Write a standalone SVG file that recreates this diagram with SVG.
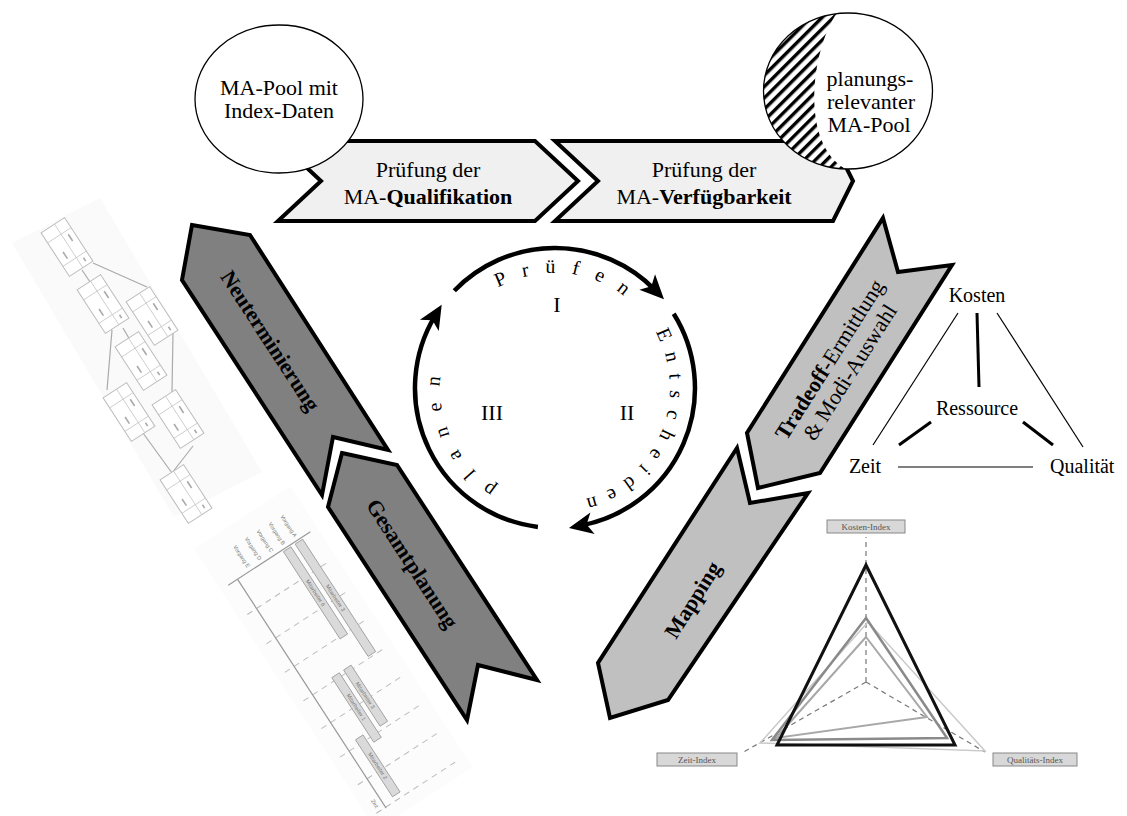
<svg xmlns="http://www.w3.org/2000/svg" width="1127" height="816" viewBox="0 0 1127 816">
<defs>
<style>
.t{font-family:"Liberation Serif","Times New Roman",serif;fill:#000}
.lbl{font-size:22px}
.b{font-weight:bold}
.chev1{fill:#f0f0f0;stroke:#000;stroke-width:4}
.chev2{fill:#808080;stroke:#000;stroke-width:4}
.chev3{fill:#c0c0c0;stroke:#000;stroke-width:4}
.ring{fill:none;stroke:#000;stroke-width:4.5;marker-end:url(#ah)}
.ct{font-size:20px}
.thin{stroke:#000;stroke-width:1.2}
.thick{stroke:#000;stroke-width:3}
.ax{stroke:#777;stroke-width:1.2;stroke-dasharray:5 4;fill:none}
.ibox{fill:#d8d8d8;stroke:#888;stroke-width:1}
.itxt{font-family:"Liberation Serif",serif;font-size:9px;fill:#555;text-anchor:middle}
.nb{fill:#fff;stroke:#bbb;stroke-width:1}
.nl{stroke:#c8c8c8;stroke-width:0.8}
.nd{stroke:#aaa;stroke-width:1.6}
.ne{stroke:#aaa;stroke-width:1.2;fill:none}
.gb{fill:#dadada;stroke:#999;stroke-width:0.8}
.gt{font-family:"Liberation Sans",sans-serif;font-size:5.5px;fill:#777}
.gd{stroke:#bbb;stroke-width:1;stroke-dasharray:6 5}
</style>
<marker id="ah" markerUnits="userSpaceOnUse" markerWidth="30" markerHeight="30" viewBox="-15 -15 30 30" refX="0" refY="0" orient="auto" overflow="visible">
<path d="M13,0 L-11,-11 L-5,0 L-11,11 Z" fill="#000"/>
</marker>
<pattern id="hatch" width="8" height="8" patternUnits="userSpaceOnUse" patternTransform="rotate(45)">
<rect width="3.4" height="8" fill="#000"/>
</pattern>
<clipPath id="hclip"><ellipse cx="848" cy="91" rx="84.5" ry="78"/></clipPath>
<g id="nbox">
<rect class="nb" x="-26" y="-14" width="52" height="28"/>
<line class="nl" x1="-26" y1="-2" x2="26" y2="-2"/>
<line class="nl" x1="-14" y1="-14" x2="-14" y2="14"/>
<line class="nl" x1="14" y1="-14" x2="14" y2="14"/>
<line class="nd" x1="-10" y1="-8" x2="-2" y2="-8"/>
<line class="nd" x1="2" y1="6" x2="10" y2="6"/>
<line class="nd" x1="18" y1="-8" x2="22" y2="-8"/>
</g>
<path id="tp" d="M555,503 A115,115 0 0,1 555,273 A115,115 0 0,1 555,503" fill="none"/>
</defs>
<rect width="1127" height="816" fill="#fff"/>

<g id="network-image">
<polygon points="12,243 100,198 262,472 174,517" fill="#fafafa"/>
<g class="ne">
<line x1="82" y1="270" x2="90" y2="282"/>
<line x1="93" y1="263" x2="147" y2="287"/>
<line x1="112" y1="330" x2="107" y2="390"/>
<line x1="123" y1="328" x2="130" y2="340"/>
<line x1="173" y1="332" x2="172" y2="392"/>
<line x1="143" y1="433" x2="172" y2="473"/>
<line x1="193" y1="446" x2="172" y2="473"/>
</g>
<use href="#nbox" transform="translate(67,247) rotate(57)"/>
<use href="#nbox" transform="translate(103,304) rotate(57)"/>
<use href="#nbox" transform="translate(152,316) rotate(57)"/>
<use href="#nbox" transform="translate(141,361) rotate(57)"/>
<use href="#nbox" transform="translate(129,412) rotate(57)"/>
<use href="#nbox" transform="translate(178,419) rotate(57)"/>
<use href="#nbox" transform="translate(186,494) rotate(57)"/>
</g>

<g id="gantt-image" transform="translate(238,580) rotate(57)">
<rect x="-50" y="-95" width="335" height="115" fill="#fcfcfc"/>
<g class="gd">
<line x1="34" y1="11" x2="34" y2="-88"/>
<line x1="69" y1="11" x2="69" y2="-88"/>
<line x1="103" y1="11" x2="103" y2="-88"/>
<line x1="137" y1="11" x2="137" y2="-88"/>
<line x1="170" y1="11" x2="170" y2="-88"/>
<line x1="204" y1="11" x2="204" y2="-88"/>
<line x1="237" y1="11" x2="237" y2="-88"/>
<line x1="271" y1="11" x2="271" y2="-88"/>
</g>
<line x1="-1" y1="11" x2="-1" y2="-87" stroke="#999" stroke-width="1.2"/>
<line x1="-1" y1="0" x2="272" y2="0" stroke="#999" stroke-width="1.2"/>
<text class="gt" x="-5" y="-70" text-anchor="end">Vorgang A</text>
<text class="gt" x="-5" y="-56" text-anchor="end">Vorgang B</text>
<text class="gt" x="-5" y="-42" text-anchor="end">Vorgang C</text>
<text class="gt" x="-5" y="-28" text-anchor="end">Vorgang D</text>
<text class="gt" x="-5" y="-14" text-anchor="end">Vorgang E</text>
<rect class="gb" x="1" y="-76.5" width="134" height="9"/>
<text class="gt" x="68" y="-70" text-anchor="middle">Mitarbeiter 3</text>
<rect class="gb" x="1" y="-62.5" width="104" height="9"/>
<text class="gt" x="53" y="-56" text-anchor="middle">Mitarbeiter 6</text>
<rect class="gb" x="133" y="-48.5" width="67" height="9"/>
<text class="gt" x="166" y="-42" text-anchor="middle">Mitarbeiter 3</text>
<rect class="gb" x="133" y="-34.5" width="77" height="9"/>
<text class="gt" x="171" y="-28" text-anchor="middle">Mitarbeiter 1</text>
<rect class="gb" x="198" y="-20.5" width="68" height="9"/>
<text class="gt" x="232" y="-14" text-anchor="middle">Mitarbeiter 2</text>
<text class="gt" x="262" y="9" text-anchor="middle">Zeit</text>
</g>

<g id="arrow-qualifikation">
<polygon class="chev1" points="278,141 535,141 578,181 535,221 278,221 321,181"/>
<text class="t lbl" x="428" y="177" text-anchor="middle">Prüfung der</text>
<text class="t lbl" x="428" y="204" text-anchor="middle">MA-<tspan class="b">Qualifikation</tspan></text>
</g>
<g id="arrow-verfuegbarkeit">
<polygon class="chev1" points="555,141 833,141 853,181 833,221 555,221 598,181"/>
<text class="t lbl" x="704" y="177" text-anchor="middle">Prüfung der</text>
<text class="t lbl" x="704" y="204" text-anchor="middle">MA-<tspan class="b">Verfügbarkeit</tspan></text>
</g>

<g id="pool-circle">
<ellipse cx="279" cy="99" rx="84" ry="74" fill="#fff" stroke="#000" stroke-width="1.3"/>
<text class="t lbl" x="279" y="95" text-anchor="middle">MA-Pool mit</text>
<text class="t lbl" x="279" y="118" text-anchor="middle">Index-Daten</text>
</g>
<g id="relevant-pool-circle">
<ellipse cx="848" cy="91" rx="84.5" ry="78" fill="#fff"/>
<ellipse cx="848" cy="91" rx="84.5" ry="78" fill="url(#hatch)"/>
<path d="M841,8 C812,40 795,150 852,172 L940,172 L940,8 Z" fill="#fff" clip-path="url(#hclip)"/>
<ellipse cx="848" cy="91" rx="84.5" ry="78" fill="none" stroke="#000" stroke-width="1.3"/>
<text class="t lbl" x="870" y="86" text-anchor="middle">planungs-</text>
<text class="t lbl" x="871" y="109" text-anchor="middle">relevanter</text>
<text class="t lbl" x="869" y="132" text-anchor="middle">MA-Pool</text>
</g>

<g id="arrow-neuterminierung">
<polygon class="chev2" points="192,225 250,235 388,450 333,437 322,495 182,280"/>
<text class="t lbl b" transform="translate(270,341) rotate(56.9)" x="0" y="7" text-anchor="middle">Neuterminierung</text>
</g>
<g id="arrow-gesamtplanung">
<polygon class="chev2" points="342,453 397,465 537,680 478,665 467,720 328,507"/>
<text class="t lbl b" transform="translate(412,564) rotate(56.9)" x="0" y="7" text-anchor="middle">Gesamtplanung</text>
</g>
<g id="arrow-tradeoff">
<polygon class="chev3" points="883,218 898,272 952,265 820,473 758,488 747,433"/>
<g transform="translate(840,366) rotate(-57.7)">
<text class="t lbl" x="0" y="-5" text-anchor="middle"><tspan class="b">Tradeoff</tspan>-Ermittlung</text>
<text class="t lbl" x="0" y="19" text-anchor="middle">&amp; Modi-Auswahl</text>
</g>
</g>
<g id="arrow-mapping">
<polygon class="chev3" points="737,448 750,503 808,493 668,700 610,718 598,663"/>
<text class="t lbl b" transform="translate(693,600) rotate(-57.7)" x="0" y="7" text-anchor="middle">Mapping</text>
</g>

<g id="cycle">
<g id="connectors">
<path class="ring" d="M454.3,290.7 A140,140 0 0,1 654.9,289.9"/>
<path class="ring" d="M673.7,313.8 A140,140 0 0,1 581.7,525.4"/>
<path class="ring" d="M537.9,527 A140,140 0 0,1 435,315.9"/>
</g>
<text class="t ct" text-anchor="middle" letter-spacing="16"><textPath href="#tp" startOffset="376">Prüfen</textPath></text>
<text class="t ct" text-anchor="middle" letter-spacing="11"><textPath href="#tp" startOffset="592">Entscheiden</textPath></text>
<text class="t ct" text-anchor="middle" letter-spacing="15.5"><textPath href="#tp" startOffset="134">planen</textPath></text>
<text class="t lbl" x="557" y="312" text-anchor="middle">I</text>
<text class="t lbl" x="627" y="420" text-anchor="middle">II</text>
<text class="t lbl" x="492" y="420" text-anchor="middle">III</text>
</g>

<g id="tradeoff-triangle">
<line class="thin" x1="958" y1="313" x2="873" y2="445"/>
<line class="thin" x1="997" y1="313" x2="1083" y2="447"/>
<line class="thin" x1="898" y1="467" x2="1033" y2="467"/>
<line class="thick" x1="977" y1="313" x2="979" y2="387"/>
<line class="thick" x1="931" y1="422" x2="899" y2="445"/>
<line class="thick" x1="1023" y1="422" x2="1053" y2="445"/>
<text class="t ct" x="977" y="302" text-anchor="middle">Kosten</text>
<text class="t ct" x="977" y="415" text-anchor="middle">Ressource</text>
<text class="t ct" x="865" y="473" text-anchor="middle">Zeit</text>
<text class="t ct" x="1050" y="473">Qualität</text>
</g>

<g id="radar-chart">
<path class="ax" d="M866,682 L866,537 M866,682 L742,753 M866,682 L985,752"/>
<polygon points="868,622 760,743 985,751" fill="none" stroke="#cacaca" stroke-width="1.5"/>
<polygon points="866,637 776,738 927,717" fill="none" stroke="#a8a8a8" stroke-width="2"/>
<polygon points="866,618 772,740 947,738" fill="none" stroke="#8a8a8a" stroke-width="2.5"/>
<polygon points="866,565 777,745 955,745" fill="none" stroke="#111" stroke-width="3"/>
<rect class="ibox" x="827" y="520" width="78" height="13"/>
<text class="itxt" x="866" y="530">Kosten-Index</text>
<rect class="ibox" x="657" y="753" width="80" height="13"/>
<text class="itxt" x="697" y="763">Zeit-Index</text>
<rect class="ibox" x="993" y="753" width="84" height="13"/>
<text class="itxt" x="1035" y="763">Qualitäts-Index</text>
</g>
</svg>
